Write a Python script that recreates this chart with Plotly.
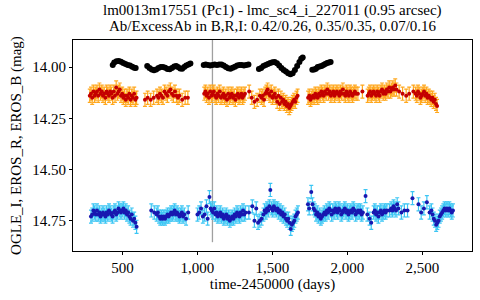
import plotly.graph_objects as go

# ---------------- data ----------------
OGLE_I_DAYS = [
    435, 445, 460, 475, 490, 505, 520, 535, 550, 565, 578, 588,
    665, 680, 695, 710, 725, 740, 755, 770, 785, 800, 815, 830, 845, 858, 870, 885, 898, 912, 925, 940, 953,
    1042, 1055, 1070, 1085, 1100, 1115, 1130, 1145, 1160, 1175, 1190, 1205, 1220, 1235, 1250, 1265, 1280, 1295, 1310, 1325, 1340,
    1410, 1425, 1440, 1455, 1470, 1485, 1500, 1515, 1530, 1545, 1560, 1575, 1590, 1605, 1620, 1635, 1650, 1665, 1680, 1692, 1702,
    1766, 1778, 1790, 1802, 1815, 1828, 1840, 1852, 1865, 1877, 1888,
]
OGLE_I_MAG = [
    13.99, 13.978, 13.972, 13.97, 13.974, 13.98, 13.985, 13.99, 13.993, 13.998, 14.003, 14.005,
    13.995, 14.005, 14.012, 14.016, 14.012, 14.005, 14.0, 14.0, 14.004, 14.01, 14.011, 14.005, 13.997, 13.995, 14.0, 14.007, 14.008, 14.0, 13.992, 13.987, 13.983,
    13.99, 13.988, 13.99, 13.993, 13.99, 13.988, 13.99, 13.988, 13.988, 13.993, 14.0, 14.006, 14.008, 14.004, 13.998, 13.993, 13.99, 13.99, 13.992, 13.99, 13.988,
    14.01, 14.005, 13.995, 13.99, 13.985, 13.98, 13.977, 13.975, 13.982, 13.993, 14.005, 14.015, 14.022, 14.03, 14.035, 14.03, 14.015, 13.995, 13.975, 13.96, 13.953,
    14.013, 14.012, 14.008, 14.0, 13.997, 13.995, 13.99, 13.985, 13.98, 13.978, 13.975,
]
OGLE_I_ERR = 0.005

EROS_R_DAYS = [
    282, 290, 298, 306, 314, 322, 330, 338, 346, 354, 362, 370, 378, 386, 394, 402, 410, 418, 426, 434,
    442, 450, 458, 466, 474, 482, 490, 498, 506, 514, 522, 530, 538, 546, 554, 562, 570, 578, 586, 594,
    650, 668, 688, 708, 730, 740, 750, 760, 770, 780, 790, 800, 810, 820, 830, 840, 850, 860, 870, 880, 898, 918, 936,
    1045, 1053, 1061, 1069, 1077, 1085, 1093, 1101, 1109, 1117, 1125, 1133, 1141, 1149, 1157, 1165, 1173, 1181,
    1189, 1197, 1205, 1213, 1221, 1229, 1237, 1245, 1253, 1261, 1269, 1277, 1285, 1293, 1301, 1309, 1317,
    1345, 1362, 1380, 1398, 1416,
    1428, 1436, 1444, 1452, 1460, 1468, 1476, 1484, 1492, 1500, 1508, 1516, 1524, 1532, 1540, 1548,
    1556, 1564, 1572, 1580, 1588, 1596, 1604, 1612, 1620, 1628, 1636, 1644, 1652, 1660, 1668,
    1738, 1746, 1754, 1762, 1770, 1778, 1786, 1794, 1802, 1810, 1818, 1826, 1834, 1842, 1850, 1858, 1866,
    1874, 1882, 1890, 1898, 1906, 1914, 1922, 1930, 1938, 1946, 1954, 1962, 1970, 1978, 1986, 1994, 2002,
    2010, 2018, 2026, 2034, 2042, 2050, 2058,
    2070, 2100,
    2135, 2143, 2151, 2159, 2167, 2175, 2183, 2191, 2199, 2207, 2215, 2223, 2231, 2239, 2247, 2255, 2263,
    2271, 2279, 2287, 2295, 2303, 2311, 2319, 2327,
    2345, 2368, 2392, 2412, 2440,
    2455, 2463, 2471, 2479, 2487, 2495, 2503, 2511, 2519, 2527, 2535, 2543, 2551, 2559, 2567, 2575, 2583, 2591, 2598,
]
EROS_R_MAG = [
    14.14, 14.13, 14.15, 14.12, 14.14, 14.13, 14.12, 14.14, 14.11, 14.13, 14.12, 14.14, 14.13, 14.15, 14.12, 14.13, 14.14, 14.12, 14.13, 14.15,
    14.12, 14.14, 14.10, 14.13, 14.12, 14.11, 14.14, 14.13, 14.15, 14.14, 14.16, 14.14, 14.15, 14.13, 14.16, 14.14, 14.15, 14.13, 14.16, 14.15,
    14.16, 14.15, 14.16, 14.15, 14.14, 14.15, 14.13, 14.14, 14.15, 14.12, 14.13, 14.14, 14.12, 14.11, 14.13, 14.14, 14.12, 14.14, 14.15, 14.14, 14.16, 14.15, 14.15,
    14.13, 14.12, 14.14, 14.13, 14.15, 14.12, 14.14, 14.13, 14.12, 14.14, 14.15, 14.13, 14.14, 14.12, 14.15, 14.14, 14.13, 14.15,
    14.14, 14.16, 14.13, 14.15, 14.14, 14.13, 14.15, 14.14, 14.16, 14.14, 14.13, 14.15, 14.14, 14.13, 14.15, 14.14, 14.13,
    14.12, 14.15, 14.17, 14.16, 14.14,
    14.15, 14.14, 14.16, 14.13, 14.12, 14.11, 14.13, 14.14, 14.12, 14.15, 14.14, 14.13, 14.15, 14.17, 14.14, 14.18,
    14.15, 14.17, 14.16, 14.18, 14.17, 14.19, 14.18, 14.20, 14.19, 14.18, 14.17, 14.16, 14.17, 14.15, 14.14,
    14.15, 14.14, 14.16, 14.15, 14.14, 14.15, 14.13, 14.14, 14.15, 14.13, 14.14, 14.12, 14.13, 14.14, 14.12, 14.13, 14.11,
    14.13, 14.12, 14.14, 14.13, 14.12, 14.14, 14.13, 14.12, 14.13, 14.14, 14.12, 14.13, 14.11, 14.13, 14.14, 14.12, 14.13,
    14.14, 14.12, 14.13, 14.14, 14.13, 14.12, 14.13,
    14.13, 14.12,
    14.14, 14.13, 14.12, 14.14, 14.13, 14.12, 14.13, 14.14, 14.12, 14.13, 14.14, 14.12, 14.11, 14.13, 14.12, 14.13, 14.11,
    14.12, 14.10, 14.12, 14.11, 14.10, 14.11, 14.09, 14.11,
    14.12, 14.13, 14.14, 14.13, 14.12,
    14.13, 14.14, 14.12, 14.13, 14.15, 14.14, 14.13, 14.12, 14.14, 14.13, 14.15, 14.14, 14.15, 14.16, 14.15, 14.17, 14.16, 14.18, 14.19,
]
EROS_R_ERR = 0.032

EROS_B_DAYS = [
    290, 298, 306, 314, 322, 330, 338, 346, 354, 362, 370, 378, 386, 394, 402, 410, 418, 426, 434, 442,
    450, 458, 466, 474, 482, 490, 498, 506, 514, 522, 530, 538, 546, 554, 562, 570, 578, 586, 594,
    692, 712, 728, 736, 744, 752, 760, 768, 776, 784, 792, 800, 808, 816, 824, 832, 840, 848, 856, 864,
    872, 880, 888, 896, 904, 912, 924, 938,
    1000, 1012, 1024, 1036, 1048, 1060, 1068, 1080,
    1088, 1096, 1104, 1112, 1120, 1128, 1136, 1144, 1152, 1160, 1168, 1176, 1184, 1192, 1200, 1208, 1216,
    1224, 1232, 1240, 1248, 1256, 1264, 1272, 1280, 1288, 1296, 1304, 1312, 1320,
    1343, 1366, 1380, 1392, 1404, 1416, 1428,
    1440, 1448, 1456, 1464, 1472, 1480, 1486,
    1494, 1502, 1510, 1518, 1526, 1534, 1542, 1550, 1558, 1566, 1574, 1582, 1590, 1598, 1606, 1614, 1622,
    1630, 1638, 1646, 1654, 1662, 1670,
    1737, 1745, 1759,
    1767, 1775, 1783, 1791, 1799, 1807, 1815, 1823, 1831, 1839, 1847, 1855, 1863, 1871, 1879, 1887, 1895,
    1903, 1911, 1919, 1927, 1935, 1943, 1951, 1959, 1967, 1975, 1983, 1991, 1999, 2007, 2015, 2023, 2031,
    2039, 2047, 2055, 2063, 2071, 2079, 2087, 2095, 2103,
    2121, 2133, 2148, 2159,
    2175, 2183, 2191, 2199, 2207, 2215, 2223, 2231, 2239, 2247, 2255, 2263,
    2280, 2292, 2300, 2308, 2316, 2324, 2332, 2340,
    2360, 2380, 2401, 2434, 2474, 2492, 2510, 2530, 2548,
    2560, 2568, 2576, 2584, 2592, 2600, 2608, 2616, 2624, 2632, 2640, 2648, 2656, 2664, 2672, 2680, 2688,
    2696, 2704,
]
EROS_B_MAG = [
    14.73, 14.72, 14.70, 14.71, 14.72, 14.70, 14.72, 14.71, 14.73, 14.72, 14.71, 14.72, 14.73, 14.71, 14.72, 14.70, 14.71, 14.72, 14.73, 14.71,
    14.70, 14.72, 14.71, 14.69, 14.70, 14.71, 14.70, 14.69, 14.71, 14.70, 14.72, 14.71, 14.73, 14.74, 14.72, 14.75, 14.74, 14.76, 14.78,
    14.70, 14.71, 14.72, 14.71, 14.73, 14.74, 14.73, 14.74, 14.73, 14.74, 14.73, 14.72, 14.73, 14.72, 14.71, 14.72, 14.71, 14.70, 14.72, 14.71,
    14.72, 14.73, 14.72, 14.71, 14.73, 14.72, 14.74, 14.71,
    14.72, 14.71, 14.69, 14.73, 14.72, 14.68, 14.74, 14.635,
    14.69, 14.70, 14.71, 14.69, 14.72, 14.71, 14.73, 14.72, 14.71, 14.73, 14.72, 14.74, 14.73, 14.72, 14.74, 14.73, 14.75,
    14.74, 14.73, 14.74, 14.72, 14.73, 14.71, 14.72, 14.73, 14.71, 14.72, 14.70, 14.72, 14.71,
    14.71, 14.68, 14.75, 14.69, 14.76, 14.75, 14.74,
    14.72, 14.70, 14.71, 14.69, 14.70, 14.68, 14.60,
    14.69, 14.70, 14.68, 14.69, 14.70, 14.69, 14.71, 14.70, 14.72, 14.71, 14.73, 14.72, 14.74, 14.75, 14.74, 14.76, 14.79,
    14.77, 14.76, 14.75, 14.73, 14.72, 14.71,
    14.67, 14.69, 14.61,
    14.67, 14.69, 14.70, 14.72, 14.71, 14.73, 14.72, 14.74, 14.73, 14.72, 14.71, 14.72, 14.70, 14.71, 14.69, 14.70, 14.72,
    14.70, 14.71, 14.69, 14.70, 14.71, 14.69, 14.70, 14.72, 14.71, 14.70, 14.69, 14.71, 14.70, 14.72, 14.71, 14.70, 14.71,
    14.69, 14.70, 14.72, 14.71, 14.70, 14.71, 14.70, 14.72, 14.71,
    14.63, 14.72, 14.74, 14.76,
    14.71, 14.70, 14.72, 14.71, 14.73, 14.71, 14.70, 14.72, 14.71, 14.70, 14.71, 14.70,
    14.70, 14.69, 14.70, 14.68, 14.69, 14.70, 14.67, 14.69,
    14.71, 14.70, 14.70, 14.64, 14.67, 14.71, 14.69, 14.66, 14.71,
    14.70, 14.72, 14.74, 14.75, 14.77, 14.76, 14.75, 14.73, 14.72, 14.71, 14.70, 14.69, 14.70, 14.69, 14.70, 14.69, 14.70,
    14.71, 14.70,
]
EROS_B_ERR = 0.032

MARK_DAY = 1100
MARK_MAG_RANGE = [13.868, 14.855]

X_RANGE = [170, 2831]
Y_RANGE = [14.898, 13.868]
X_TICKS = [500, 1000, 1500, 2000, 2500]
Y_TICKS = [14.00, 14.25, 14.50, 14.75]

TITLE_1 = "lm0013m17551 (Pc1) - lmc_sc4_i_227011 (0.95 arcsec)"
TITLE_2 = "Ab/ExcessAb in B,R,I: 0.42/0.26, 0.35/0.35, 0.07/0.16"
X_TITLE = "time-2450000 (days)"
Y_TITLE = "OGLE_I, EROS_R, EROS_B (mag)"

FONT = "Liberation Serif"
FS = 15

# ---------------- figure ----------------
fig = go.Figure()

fig.add_trace(go.Scatter(
    x=[MARK_DAY, MARK_DAY], y=MARK_MAG_RANGE, mode="lines",
    line=dict(color="#a0a0a0", width=1.3), hoverinfo="skip", showlegend=False))

fig.add_trace(go.Scatter(
    x=EROS_B_DAYS, y=EROS_B_MAG, mode="markers",
    marker=dict(color="#1818b0", size=4),
    error_y=dict(type="constant", value=EROS_B_ERR, color="#3cc6f4", thickness=1.2, width=2),
    showlegend=False))

fig.add_trace(go.Scatter(
    x=EROS_R_DAYS, y=EROS_R_MAG, mode="markers",
    marker=dict(color="#c40000", size=4),
    error_y=dict(type="constant", value=EROS_R_ERR, color="#ffa81e", thickness=1.2, width=2),
    showlegend=False))

fig.add_trace(go.Scatter(
    x=OGLE_I_DAYS, y=OGLE_I_MAG, mode="markers",
    marker=dict(color="black", size=6),
    error_y=dict(type="constant", value=OGLE_I_ERR, color="black", thickness=1, width=1),
    showlegend=False))

axis_common = dict(
    showline=True, linecolor="black", linewidth=1, mirror=True,
    ticks="outside", ticklen=3, tickcolor="black", showgrid=False, zeroline=False,
    automargin=False,
    tickfont=dict(family=FONT, size=FS, color="black"),
)

fig.update_layout(
    template="none",
    width=480, height=300,
    margin=dict(l=73, r=8, t=40, b=49),
    paper_bgcolor="white", plot_bgcolor="white",
    font=dict(family=FONT, size=FS, color="black"),
    xaxis=dict(range=X_RANGE, tickvals=X_TICKS, tickformat=",d",
               title=dict(text=X_TITLE, font=dict(family=FONT, size=FS), standoff=2),
               **axis_common),
    yaxis=dict(range=Y_RANGE, tickvals=Y_TICKS, tickformat=".2f",
               title=dict(text=Y_TITLE, font=dict(family=FONT, size=FS), standoff=7),
               **axis_common),
    annotations=[
        dict(text=TITLE_1, xref="paper", yref="paper", x=0.5, y=1 + 30 / 211,
             xanchor="center", yanchor="middle", showarrow=False,
             font=dict(family=FONT, size=FS, color="black")),
        dict(text=TITLE_2, xref="paper", yref="paper", x=0.5, y=1 + 14 / 211,
             xanchor="center", yanchor="middle", showarrow=False,
             font=dict(family=FONT, size=FS, color="black")),
    ],
)

fig.write_html("out.html", config={"displayModeBar": False},
               post_script="document.body.style.margin='0';document.body.style.padding='0';")
